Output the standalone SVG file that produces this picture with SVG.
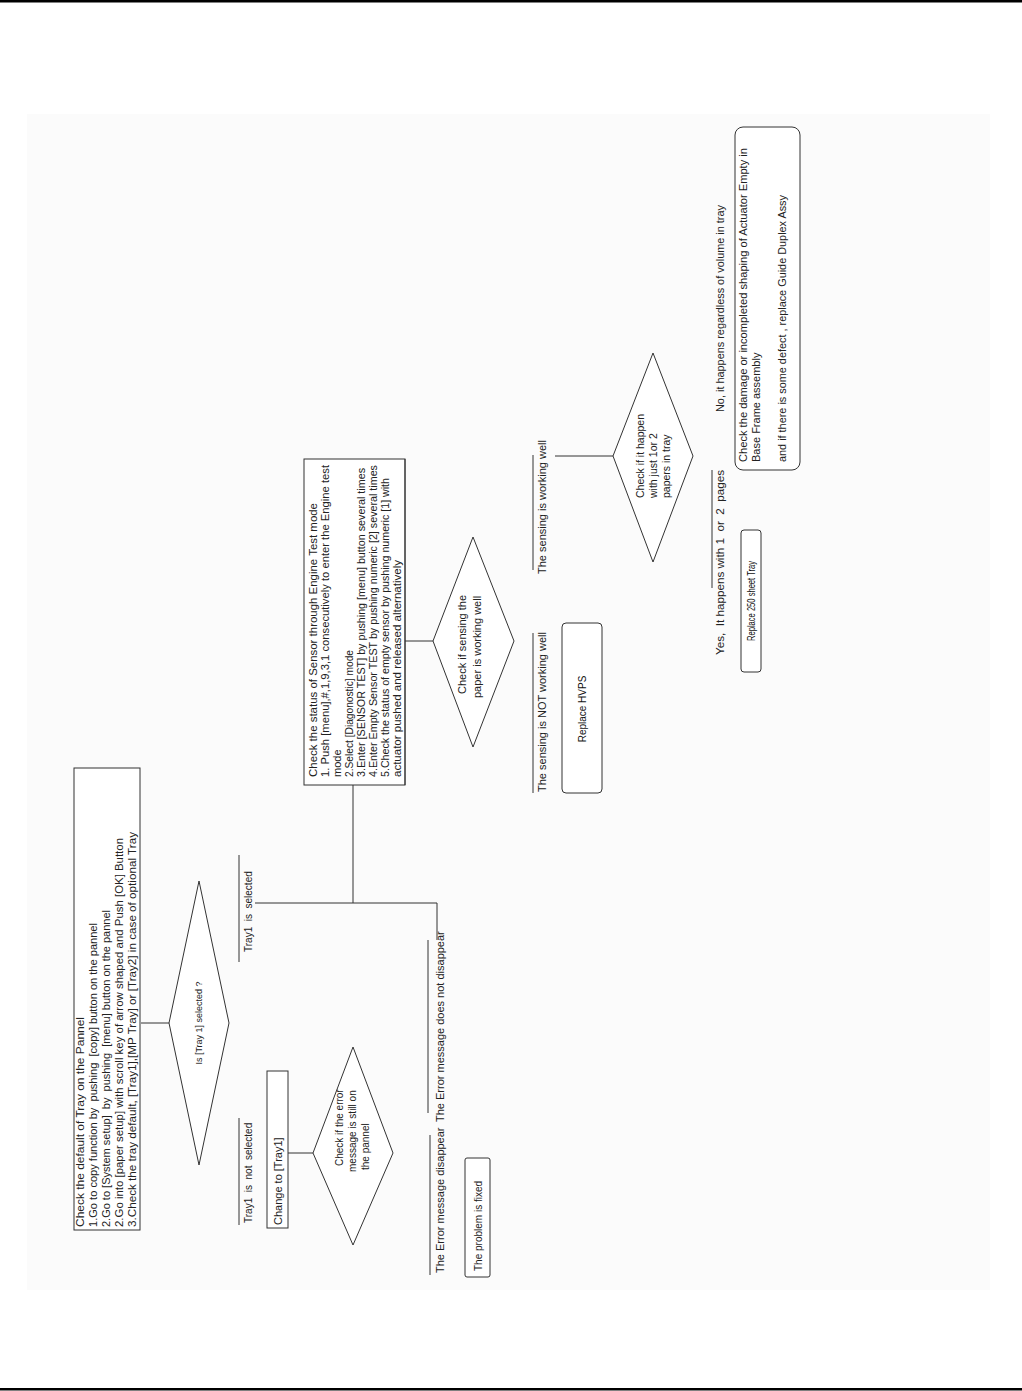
<svg xmlns="http://www.w3.org/2000/svg" width="1022" height="1391" viewBox="0 0 1022 1391">
<style>
.t{font-family:"Liberation Sans",Arial,sans-serif;font-size:11px;fill:#222;white-space:pre}
.s{font-size:10px}
.m{font-size:10.5px}
.c{font-size:9px}
.b{font-size:10px;fill:#111}
.box{fill:#fff;stroke:#333;stroke-width:1}
.ln{fill:none;stroke:#333;stroke-width:1}
</style>
<rect x="0" y="0" width="1022" height="1391" fill="#fff"/>
<rect x="27" y="114" width="963" height="1176" fill="#fbfbfb"/>
<rect x="0" y="0" width="1022" height="2.5" fill="#000"/>
<rect x="0" y="1388" width="1022" height="2.5" fill="#000"/>

<g id="connectors">
<path class="ln" d="M141,1023 H169"/>
<path class="ln" d="M255,903 H437 V940"/>
<path class="ln" d="M353,903 V785"/>
<path class="ln" d="M288,1153 H313"/>
<path class="ln" d="M405,641 H433"/>
<path class="ln" d="M555,456 H613"/>
</g>

<g id="box-default-tray">
<rect class="box" x="74" y="768" width="66" height="462"/>
<text class="t" textLength="210" lengthAdjust="spacingAndGlyphs" transform="translate(84,1227) rotate(-90)">Check the default of Tray on the Pannel</text>
<text class="t" textLength="304" lengthAdjust="spacingAndGlyphs" transform="translate(97,1227) rotate(-90)">1.Go to copy function by  pushing  [copy] button on the pannel</text>
<text class="t" textLength="317" lengthAdjust="spacingAndGlyphs" transform="translate(110,1227) rotate(-90)">2.Go to [System setup]  by  pushing  [menu] button on the pannel</text>
<text class="t" textLength="389" lengthAdjust="spacingAndGlyphs" transform="translate(123,1227) rotate(-90)">2.Go into [paper setup] with scroll key of arrow shaped and Push [OK] Button</text>
<text class="t" textLength="395" lengthAdjust="spacingAndGlyphs" transform="translate(136,1227) rotate(-90)">3.Check the tray default, [Tray1],[MP Tray] or [Tray2] in case of optional Tray</text>
</g>

<g id="dec-tray1">
<polygon class="box" points="169,1023 199,881 229,1023 199,1165"/>
<text class="t c" text-anchor="middle" transform="translate(202,1023) rotate(-90)">Is [Tray 1] selected ?</text>
</g>

<g id="lbl-tray1-selected">
<path class="ln" d="M239,855 V962"/>
<text class="t s" transform="translate(252,952) rotate(-90)">Tray1  is  selected</text>
</g>

<g id="lbl-tray1-not-selected">
<path class="ln" d="M239,1118 V1225"/>
<text class="t s" transform="translate(252,1223) rotate(-90)">Tray1  is  not  selected</text>
</g>

<g id="box-change-tray1">
<rect class="box" x="267" y="1071" width="21" height="157"/>
<text class="t" transform="translate(282,1225) rotate(-90)">Change to [Tray1]</text>
</g>

<g id="dec-error-still">
<polygon class="box" points="313,1153 353,1047 393,1153 353,1245"/>
<text class="t s" transform="translate(343,1166) rotate(-90)">Check if the error</text>
<text class="t s" transform="translate(356,1172) rotate(-90)">message is still on</text>
<text class="t s" transform="translate(369,1170) rotate(-90)">the pannel</text>
</g>

<g id="lbl-error-disappear">
<path class="ln" d="M430,1135 V1275"/>
<text class="t" transform="translate(444,1273) rotate(-90)">The Error message disappear</text>
</g>

<g id="lbl-error-not-disappear">
<path class="ln" d="M428,940 V1113"/>
<text class="t" transform="translate(444,1122) rotate(-90)">The Error message does not disappear</text>
</g>

<g id="box-problem-fixed">
<rect class="box" x="465" y="1158" width="25" height="119" rx="2"/>
<text class="t s" transform="translate(482,1271) rotate(-90)">The problem is fixed</text>
</g>

<g id="box-sensor-test">
<rect class="box" x="304" y="459" width="101" height="326"/>
<text class="t" textLength="274" lengthAdjust="spacingAndGlyphs" transform="translate(317,777) rotate(-90)">Check the status of Sensor through Engine Test mode</text>
<text class="t" textLength="312" lengthAdjust="spacingAndGlyphs" transform="translate(329,777) rotate(-90)">1. Push [menu],#,1,9,3,1 consecutively to enter the Engine test</text>
<text class="t" transform="translate(341,777) rotate(-90)">mode</text>
<text class="t" textLength="127" lengthAdjust="spacingAndGlyphs" transform="translate(353,777) rotate(-90)">2.Select [Diagonostic] mode</text>
<text class="t" textLength="309" lengthAdjust="spacingAndGlyphs" transform="translate(365,777) rotate(-90)">3.Enter [SENSOR TEST] by pushing [menu] button several times</text>
<text class="t" textLength="312" lengthAdjust="spacingAndGlyphs" transform="translate(377,777) rotate(-90)">4.Enter Empty Sensor TEST by pushing numeric [2] several times</text>
<text class="t" textLength="299" lengthAdjust="spacingAndGlyphs" transform="translate(389,777) rotate(-90)">5.Check the status of empty sensor by pushing numeric [1] with</text>
<text class="t" textLength="217" lengthAdjust="spacingAndGlyphs" transform="translate(401,777) rotate(-90)">actuator pushed and released alternatively</text>
<path class="ln" d="M405,459 V785"/>
</g>

<g id="dec-sensing">
<polygon class="box" points="433,641 473,537 514,641 473,747"/>
<text class="t" transform="translate(466,694) rotate(-90)">Check if sensing the</text>
<text class="t" transform="translate(481,698) rotate(-90)">paper is working well</text>
</g>

<g id="lbl-sensing-not-ok">
<path class="ln" d="M533,633 V793"/>
<text class="t" transform="translate(546,792) rotate(-90)">The sensing is NOT working well</text>
</g>

<g id="box-replace-hvps">
<rect class="box" x="562" y="623" width="40" height="170" rx="4"/>
<text class="t b" text-anchor="middle" transform="translate(586,709) rotate(-90)">Replace HVPS</text>
</g>

<g id="lbl-sensing-ok">
<path class="ln" d="M533,455 V570"/>
<text class="t" transform="translate(546,574) rotate(-90)">The sensing is working well</text>
</g>

<g id="dec-papers">
<polygon class="box" points="613,456 653,353 693,456 653,562"/>
<text class="t m" transform="translate(644,498) rotate(-90)">Check if it happen</text>
<text class="t m" transform="translate(657,498) rotate(-90)">with just 1or 2</text>
<text class="t m" transform="translate(670,498) rotate(-90)">papers in tray</text>
</g>

<g id="lbl-yes">
<path class="ln" d="M712,470 V588"/>
<text class="t" textLength="185" lengthAdjust="spacingAndGlyphs" transform="translate(724,655) rotate(-90)">Yes,  It happens with 1  or  2  pages</text>
</g>

<g id="lbl-no">
<text class="t" textLength="207" lengthAdjust="spacingAndGlyphs" transform="translate(724,412) rotate(-90)">No, it happens regardless of volume in tray</text>
</g>

<g id="box-replace-tray">
<rect class="box" x="741" y="530" width="20" height="142" rx="3"/>
<text class="t b" text-anchor="middle" textLength="80" lengthAdjust="spacingAndGlyphs" transform="translate(755,601) rotate(-90)">Replace 250 sheet Tray</text>
</g>

<g id="box-check-damage">
<rect class="box" x="735" y="127" width="65" height="343" rx="8"/>
<text class="t" textLength="314" lengthAdjust="spacingAndGlyphs" transform="translate(747,462) rotate(-90)">Check the damage or incompleted shaping of Actuator Empty in</text>
<text class="t" transform="translate(760,462) rotate(-90)">Base Frame assembly</text>
<text class="t" textLength="267" lengthAdjust="spacingAndGlyphs" transform="translate(786,462) rotate(-90)">and if there is some defect , replace Guide Duplex Assy</text>
</g>
</svg>
